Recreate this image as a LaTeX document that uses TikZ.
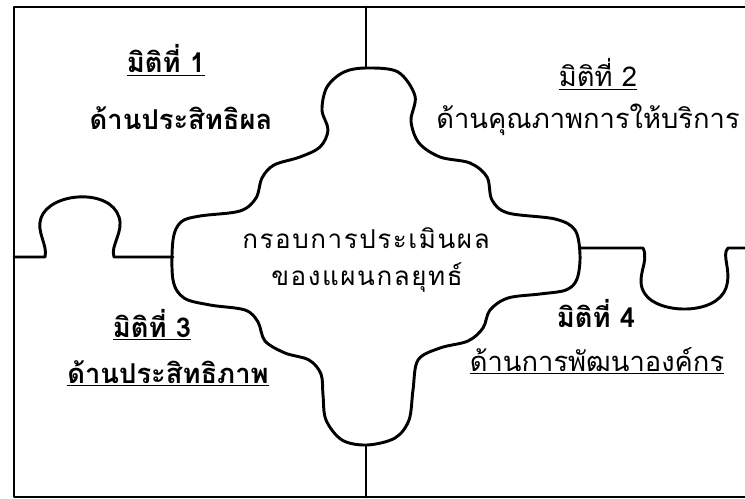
\documentclass[tikz,border=0pt]{standalone}
\usepackage{fontspec}
\newfontfamily\thai[Script=Thai]{Loma}
\newfontfamily\thaiwide[Script=Thai,LetterSpace=6]{Loma}
\begin{document}
\begin{tikzpicture}[x=0.75pt,y=-0.75pt,line join=round,line cap=round]
\tikzset{
  edge/.style={line width=2.2pt},
  lblb/.style={font=\thai\bfseries\fontsize{20.5}{24}\selectfont,inner sep=0pt,anchor=base},
  lblr/.style={font=\thai\fontsize{20.5}{24}\selectfont,inner sep=0pt,anchor=base},
  ctr/.style={font=\thaiwide\fontsize{19.5}{24}\selectfont,inner sep=0pt,anchor=base}
}
\useasboundingbox (0,0) rectangle (745,499);
% outer frame
\draw[edge] (745,7) -- (14,7) -- (14,497) -- (745,497);
% vertical joins
\draw[edge] (366,7) -- (366,68);
\draw[edge] (366,446) -- (366,497);
% left tab
\draw[edge] (14,257) -- (45,257)
  .. controls (48,245) and (36,232) .. (41,218)
  .. controls (50,192) and (110,188) .. (119,217)
  .. controls (124,232) and (110,246) .. (114,257) -- (173,257);
% right tab
\draw[edge] (580,248) -- (643,248)
  .. controls (650,262) and (634,278) .. (645,294)
  .. controls (658,314) and (716,316) .. (726,288)
  .. controls (732,270) and (721,255) .. (728,248) -- (745,248);
% center blob
\draw[edge] plot[smooth cycle,tension=0.55] coordinates {
 (367,68) (398,72) (415,96) (411,121) (419,143) (440,157) (470,163)
 (487,177) (492,200) (508,213) (555,219) (575,230) (580,255)
 (577,279) (566,290) (540,294) (508,298) (490,310) (483,328)
 (468,341) (440,348) (418,360) (413,390) (409,420) (395,438)
 (367,445) (342,440) (326,420) (323,395) (321,374) (309,360)
 (285,353) (265,341) (258,322) (245,310) (210,305) (184,298)
 (173,280) (173,240) (181,222) (200,216) (240,211) (256,198)
 (262,178) (274,165) (300,157) (320,147) (328,130) (322,110)
 (327,87) (344,72)};
% labels
\node[lblb] (d1) at (166,73) {\underline{มิติที่ 1}};
\node[lblb] (t1) at (181,130) {ด้านประสิทธิผล};
\node[lblr] (d2) at (598,87) {\underline{มิติที่ 2}};
\node[lblr] (t2) at (588,128) {ด้านคุณภาพการให้บริการ};
\node[lblb] (d3) at (152,337) {\underline{มิติที่ 3}};
\node[lblb] (t3) at (168,383) {\underline{ด้านประสิทธิภาพ}};
\node[lblb] (d4) at (596,327) {มิติที่ 4};
\node[lblr] (t4) at (597,371) {\underline{ด้านการพัฒนาองค์กร}};
\node[ctr] (c1) at (366,248) {กรอบการประเมินผล};
\node[ctr] (c2) at (367,285) {ของแผนกลยุทธ์};
\end{tikzpicture}
\end{document}
